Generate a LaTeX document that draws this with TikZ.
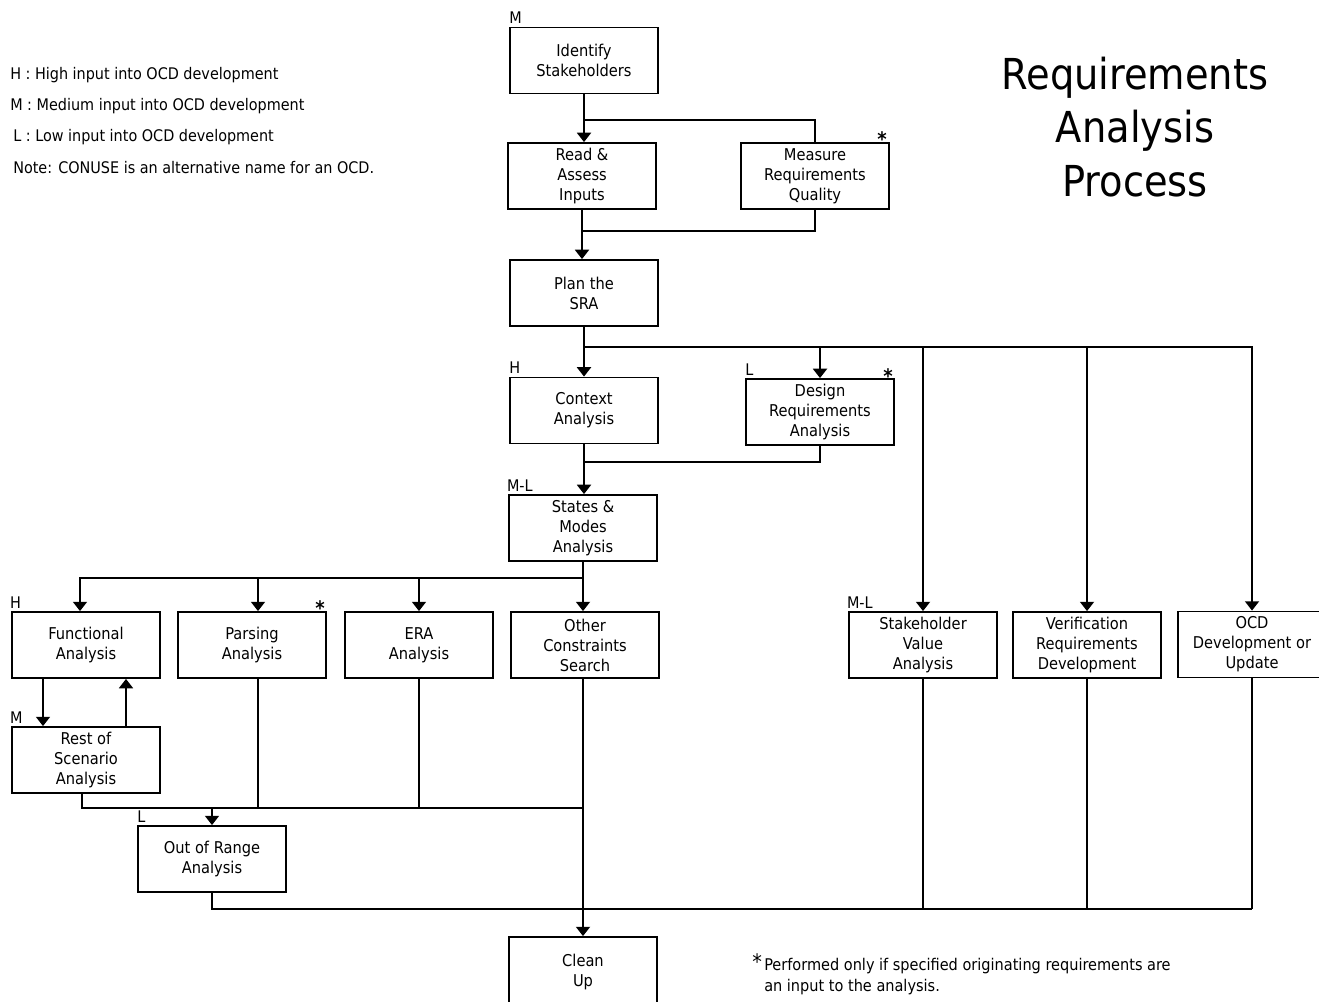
\documentclass[tikz,border=0pt]{standalone}
\usepackage{fontspec}
\setmainfont{DejaVu Sans Condensed}
\usetikzlibrary{arrows.meta}
\begin{document}
\begin{tikzpicture}[x=0.75pt,y=-0.75pt,
  box/.style={draw, line width=1.4pt, minimum width=111pt, minimum height=49.5pt, inner sep=1pt, align=center, font=\fontsize{12.2}{15}\selectfont},
  ln/.style={line width=1.4pt},
  arr/.style={line width=1.4pt, -{Triangle[length=7pt,width=10.5pt]}},
  lbl/.style={inner sep=0pt, anchor=base west, font=\fontsize{12}{14}\selectfont},
  starl/.style={inner sep=0pt, anchor=base, font=\fontsize{15}{15}\selectfont\bfseries},
  legend/.style={inner sep=0pt, anchor=west, font=\fontsize{12}{14}\selectfont},
  ]
\useasboundingbox (0,0) rectangle (1319,1001);
\clip (0,0) rectangle (1319,1001);

% boxes
\node[box] (idf) at (584,60.5) {Identify\\Stakeholders};
\node[box] (read) at (582,176) {Read \&\\Assess\\Inputs};
\node[box] (meas) at (815,176) {Measure\\Requirements\\Quality};
\node[box] (plan) at (584,293) {Plan the\\SRA};
\node[box] (ctx) at (584,410.5) {Context\\Analysis};
\node[box] (des) at (820,412) {Design\\Requirements\\Analysis};
\node[box] (sm) at (583,528) {States \&\\Modes\\Analysis};
\node[box] (fun) at (86,645) {Functional\\Analysis};
\node[box] (par) at (252,645) {Parsing\\Analysis};
\node[box] (era) at (419,645) {ERA\\Analysis};
\node[box] (oth) at (585,645) {Other\\Constraints\\Search};
\node[box] (rest) at (86,760) {Rest of\\Scenario\\Analysis};
\node[box] (oor) at (212,859) {Out of Range\\Analysis};
\node[box, minimum height=52.5pt] (clean) at (583,972) {Clean\\Up};
\node[box] (svh) at (923,645) {Stakeholder\\Value\\Analysis};
\node[box] (ver) at (1087,645) {Verification\\Requirements\\Development};
\node[box] (ocd) at (1252,644.5) {OCD\\Development or\\Update};

% input level labels
\node[lbl] at ([yshift=2pt]idf.north west) {M};
\node[lbl] at ([yshift=2pt]ctx.north west) {H};
\node[lbl] at ([yshift=2pt]des.north west) {L};
\node[lbl] at ([xshift=-1pt,yshift=2pt]sm.north west) {M-L};
\node[lbl] at ([xshift=-1pt,yshift=2pt]fun.north west) {H};
\node[lbl] at ([xshift=-1pt,yshift=2pt]rest.north west) {M};
\node[lbl] at ([yshift=2pt]oor.north west) {L};
\node[lbl] at ([xshift=-1pt,yshift=2pt]svh.north west) {M-L};

% stars
\node[starl] at (882,146) {*};
\node[starl] at (888,383) {*};
\node[starl] at (320,615) {*};

% connectors
\coordinate (j1) at (584,120);
\coordinate (j2) at (582,231);
\coordinate (j3) at (584,347);
\coordinate (j4) at (584,462);
\coordinate (j5) at (583,578);
\coordinate (j6) at (583,808);
\coordinate (j7) at (1252,909);

\draw[arr] (idf.south) -- (idf.south |- read.north);
\draw[ln] (j1) -| (meas.north);
\draw[arr] (read.south) -- (read.south |- plan.north);
\draw[ln] (meas.south) |- (j2);
\draw[arr] (plan.south) -- (plan.south |- ctx.north);
\draw[arr] (j3) -| (ocd.north);
\draw[arr] (des.north |- j3) -- (des.north);
\draw[arr] (svh.north |- j3) -- (svh.north);
\draw[arr] (ver.north |- j3) -- (ver.north);
\draw[arr] (ctx.south) -- (ctx.south |- sm.north);
\draw[ln] (des.south) |- (j4);
\draw[ln] (sm.south) -- (j5);
\draw[arr] (j5) -| ([xshift=-4.5pt]fun.north);
\draw[arr] ([xshift=4.5pt]par.north |- j5) -- ([xshift=4.5pt]par.north);
\draw[arr] (era.north |- j5) -- (era.north);
\draw[arr] (clean.north |- j5) -- (clean.north |- oth.north);
\draw[arr] ([xshift=-32.25pt]fun.south) -- ([xshift=-32.25pt]rest.north);
\draw[arr] ([xshift=30pt]rest.north) -- ([xshift=30pt]fun.south);
\draw[ln] ([xshift=-3pt]rest.south) |- (j6);
\draw[ln] ([xshift=4.5pt]par.south) -- ([xshift=4.5pt]par.south |- j6);
\draw[ln] (era.south) -- (era.south |- j6);
\draw[arr] (clean.north |- oth.south) -- (clean.north);
\draw[arr] (oor.north |- j6) -- (oor.north);
\draw[ln] (oor.south) |- (j7);
\draw[ln] (svh.south) -- (svh.south |- j7);
\draw[ln] (ver.south) -- (ver.south |- j7);
\draw[ln] (ocd.south) -- (j7);

% legend
\node[legend] (lh) at (10,75) {H : High input into OCD development};
\node[legend] (lm) at (10,106) {M : Medium input into OCD development};
\node[legend] (ll) at (13,137) {L : Low input into OCD development};
\node[legend] (ln) at (13,168) {Note: CONUSE is an alternative name for an OCD.};

% title
\node[inner sep=0pt, align=center, font=\fontsize{32}{40}\selectfont] (title) at (1135,127) {Requirements\\Analysis\\Process};

% footnote
\node[inner sep=0pt, anchor=base west, font=\fontsize{16}{16}\selectfont] (fstar) at (752,969) {*};
\node[inner sep=0pt, anchor=north west, align=left, font=\fontsize{12.1}{15.5}\selectfont] (fnote) at (764,958) {Performed only if specified originating requirements are\\an input to the analysis.};
\end{tikzpicture}
\end{document}
